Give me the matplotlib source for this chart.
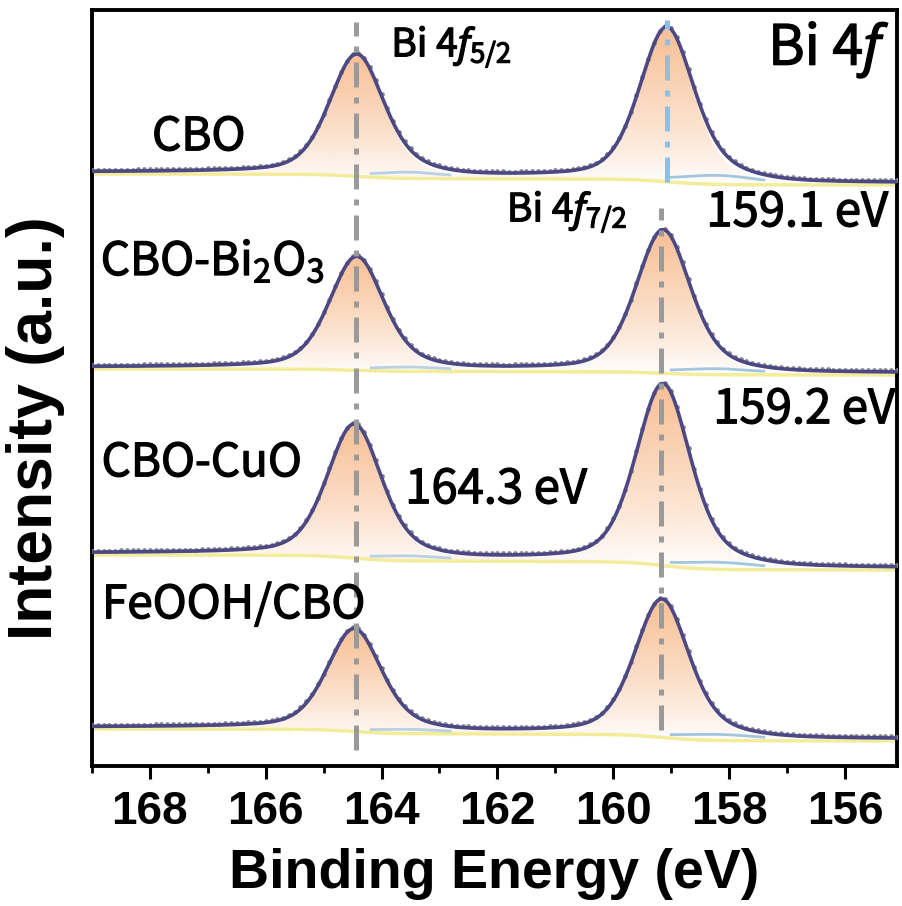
import numpy as np
import matplotlib
matplotlib.use("Agg")
import matplotlib.pyplot as plt
import matplotlib.patheffects as pe
from matplotlib.colors import to_rgb
from matplotlib.ticker import MultipleLocator

plt.rcParams['font.family'] = ['Noto Sans CJK SC', 'DejaVu Sans']
plt.rcParams['mathtext.fontset'] = 'custom'
plt.rcParams['mathtext.rm'] = 'Noto Sans CJK SC'
plt.rcParams['mathtext.it'] = 'Noto Sans:italic'

# --- fitted peak parameters (y in plot units) ---
samples = ["CBO", "CBO-Bi$_2$O$_3$", "CBO-CuO", "FeOOH/CBO"]
pos52 = [164.43, 164.43, 164.47, 164.47]
pos72 = [159.08, 159.14, 159.14, 159.16]
h52 = [119, 111, 131, 100]
h72 = [150, 140, 178, 135]
bg_left = [594, 399, 213, 39]
bg_right = [583, 393, 198, 27]
fwhm = [1.1, 1.1, 1.1, 1.1]
small_h = [7, 4, 5, 4]          # weak blue component near 158.3 eV
label_xy = [(197, 137), (211, 262), (200, 463), (232, 605)]  # pixel positions

x = np.arange(155.0, 169.01, 0.02)
xd = np.arange(155.0, 169.01, 0.1)


def pv(e, c, h, w, eta=0.35):
    s = w / 2.3548
    g = np.exp(-(e - c) ** 2 / (2 * s ** 2))
    l = 1 / (1 + ((e - c) / (w / 2)) ** 2)
    return h * ((1 - eta) * g + eta * l)


def shirley(e, peaks, left, right):
    tot = sum(peaks)
    order = np.argsort(e)
    cum = np.zeros_like(e)
    cum[order] = np.cumsum(tot[order])
    frac = cum / cum.max()
    return right + (left - right) * frac


fig = plt.figure(figsize=(9.03, 9.06), dpi=100)
W, H = 903, 906
ax = fig.add_axes([92 / W, 1 - 766 / H, (897 - 92) / W, (766 - 10) / H])
Y0 = 766
bold = [pe.withStroke(linewidth=0.9, foreground='black')]


def px(xp):
    return 168 - (xp - 148) / 58.08


def gradient_fill(xx, top, bot, color):
    poly = ax.fill_between(xx, bot, top, color='none', lw=0)
    path = poly.get_paths()[0]
    rgb = to_rgb(color)
    grad = np.zeros((200, 1, 4))
    grad[..., :3] = rgb
    grad[..., 3] = np.linspace(0.0, 0.88, 200)[:, None] ** 0.8
    im = ax.imshow(grad, aspect='auto', origin='lower', zorder=1,
                   extent=[xx.min(), xx.max(), bot.min(), top.max()])
    im.set_clip_path(path, transform=ax.transData)


for i in range(4):
    p5 = pv(x, pos52[i], h52[i], fwhm[i])
    p7 = pv(x, pos72[i], h72[i], fwhm[i])
    ps = pv(x, 158.2, small_h[i], 1.4, 0.0)
    ps2 = pv(x, 163.5, small_h[i] * 0.6, 1.2, 0.0)
    bg = shirley(x, [p5, p7, ps, ps2], bg_left[i], bg_right[i])
    env = bg + p5 + p7 + ps + ps2
    gradient_fill(x, bg + p5, bg, '#F7B98A')
    gradient_fill(x, bg + p7, bg, '#F7B98A')
    ax.plot(x, bg - 2, color='#F3EC9A', lw=2.5, zorder=2)
    ax.plot(x, np.where(ps > 0.4 * small_h[i], bg + ps, np.nan),
            color='#8DB9D9', lw=2, alpha=0.8, zorder=2)
    ax.plot(x, np.where(ps2 > 0.4 * small_h[i] * 0.6, bg + ps2, np.nan),
            color='#8DB9D9', lw=2, alpha=0.6, zorder=2)
    # measured points
    p5d = pv(xd, pos52[i], h52[i], fwhm[i])
    p7d = pv(xd, pos72[i], h72[i], fwhm[i])
    psd = pv(xd, 158.2, small_h[i], 1.4, 0.0) + pv(xd, 163.5, small_h[i] * 0.6, 1.2, 0.0)
    bgd = np.interp(xd, x, bg)
    ax.plot(xd, bgd + p5d + p7d + psd + 1.5, 'o', ms=3.4, color='#85858F',
            mec='none', zorder=3)
    ax.plot(x, env, color='#4B4884', lw=2.6, zorder=4)
    lx, ly = label_xy[i]
    ax.text(px(lx), Y0 - ly, samples[i], fontsize=33, path_effects=bold,
            ha='center', va='center', zorder=6)

# reference lines
dash = (5, 2, 1.2, 2)
ax.plot([164.45, 164.45], [Y0 - 750, Y0 - 22], color='#9A9A9A', lw=3.6,
        dashes=dash, zorder=5)
ax.plot([159.17, 159.17], [Y0 - 730, Y0 - 208], color='#9A9A9A', lw=3.6,
        dashes=dash, zorder=5)
ax.plot([159.08, 159.08], [Y0 - 182, Y0 - 20], color='#8FBFE3', lw=3.6,
        dashes=dash, zorder=5)

# annotations
ax.text(px(390), Y0 - 47, r'Bi 4$\mathit{f}_{\mathit{5/2}}$', fontsize=28,
        va='center', ha='left', zorder=6, path_effects=bold)
ax.text(px(506), Y0 - 212, r'Bi 4$\mathit{f}_{\mathit{7/2}}$', fontsize=28,
        va='center', ha='left', zorder=6, path_effects=bold)
ax.text(px(768), Y0 - 50, r'Bi 4$\mathit{f}$', fontsize=40,
        va='center', ha='left', zorder=6, path_effects=bold)
ax.text(px(706), Y0 - 213, '159.1 eV', fontsize=34, va='center', ha='left',
        zorder=6, path_effects=bold)
ax.text(px(713), Y0 - 410, '159.2 eV', fontsize=34, va='center', ha='left',
        zorder=6, path_effects=bold)
ax.text(px(404), Y0 - 490, '164.3 eV', fontsize=34, va='center', ha='left',
        zorder=6, path_effects=bold)

ax.set_xlim(169, 155.1)
ax.set_ylim(0, Y0 - 10)
ax.set_yticks([])
ax.xaxis.set_major_locator(MultipleLocator(2))
ax.xaxis.set_minor_locator(MultipleLocator(1))
ax.tick_params(axis='x', which='major', direction='out', length=9, width=2.2, pad=8)
ax.tick_params(axis='x', which='minor', direction='out', length=5, width=2)
for s in ax.spines.values():
    s.set_linewidth(2.8)
for lab in ax.get_xticklabels():
    lab.set_fontfamily(['Liberation Sans', 'DejaVu Sans'])
    lab.set_fontweight('bold')
    lab.set_fontsize(33)
ax.set_xlabel('Binding Energy (eV)', fontsize=40, fontweight='bold',
              family=['Liberation Sans', 'DejaVu Sans'], labelpad=10)
ax.set_ylabel('Intensity (a.u.)', fontsize=45, fontweight='bold',
              family=['Liberation Sans', 'DejaVu Sans'])
ax.yaxis.set_label_coords(-0.034, 0.447)

fig.savefig('out.png', dpi=100)
